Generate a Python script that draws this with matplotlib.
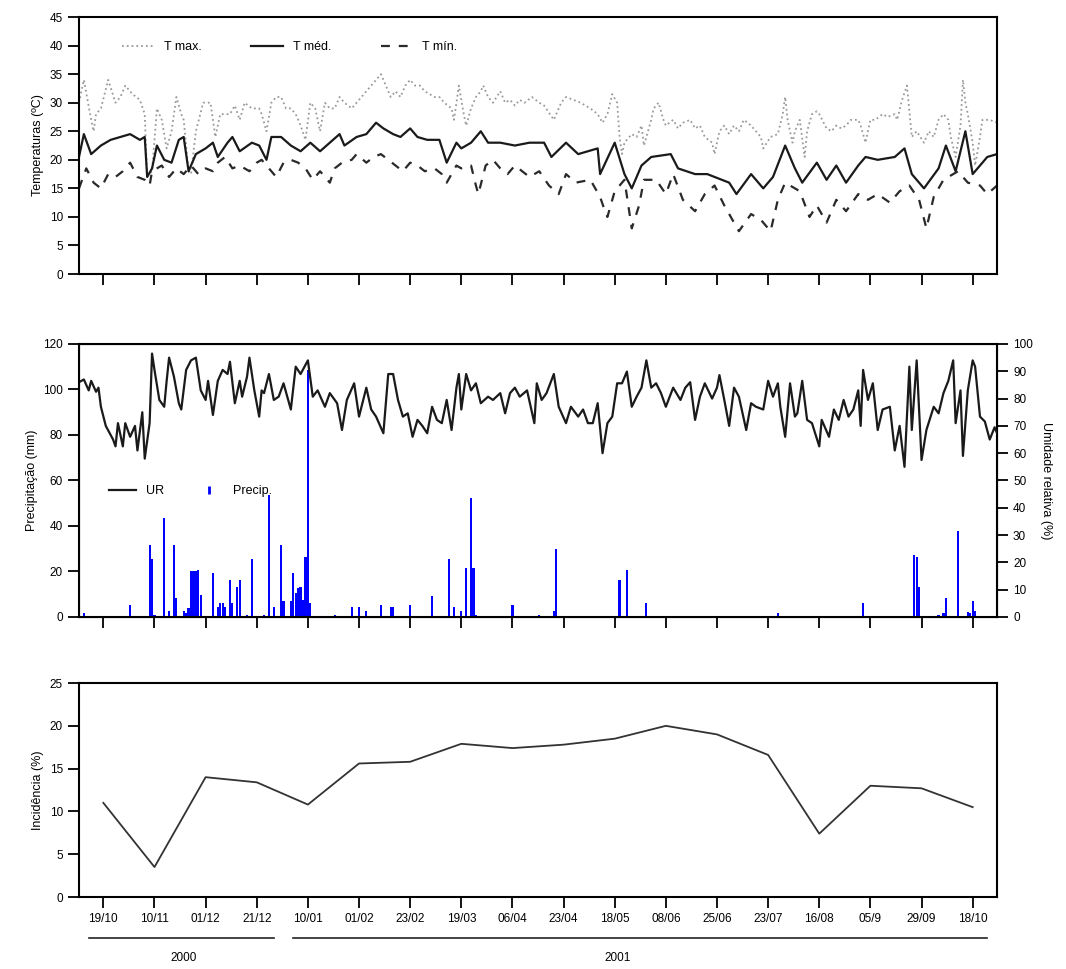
import numpy as np
import matplotlib
matplotlib.use("Agg")
import matplotlib.pyplot as plt
from matplotlib.lines import Line2D

plt.rcParams['font.family'] = ['Liberation Sans Narrow', 'Liberation Sans', 'DejaVu Sans']
plt.rcParams['font.size'] = 8.5

# evaluation dates (equally spaced ticks, every 21 days starting at day 10)
datas = ['19/10', '10/11', '01/12', '21/12', '10/01', '01/02', '23/02', '19/03', '06/04',
         '23/04', '18/05', '08/06', '25/06', '23/07', '16/08', '05/9', '29/09', '18/10']
incidencia = [11.0, 3.5, 14.0, 13.4, 10.8, 15.6, 15.8, 17.9, 17.4,
              17.8, 18.5, 20.0, 19.0, 16.6, 7.4, 13.0, 12.7, 10.5]

# daily temperatures (day of series, value)
tmax_dia = [0, 2, 5, 6, 7, 9, 12, 15, 17, 19, 22, 25, 27, 28, 30, 32, 34, 36, 38, 40, 42, 43, 45, 46,
            48, 51, 54, 56, 58, 62, 64, 66, 68, 71, 74, 75, 77, 79, 81, 83, 85, 87, 89, 91, 93, 95,
            97, 99, 101, 103, 105, 107, 109, 112, 114, 116, 118, 120, 122, 124, 126, 128, 130, 132,
            134, 136, 138, 140, 142, 144, 146, 148, 150, 153, 154, 156, 158, 159, 161, 163, 165, 166,
            168, 170, 173, 175, 177, 179, 181, 183, 186, 189, 191, 195, 198, 200, 203, 206, 210, 213,
            215, 217, 219, 221, 222, 223, 224, 227, 229, 231, 232, 235, 236, 238, 240, 241, 244, 246,
            248, 251, 253, 255, 257, 260, 261, 263, 265, 267, 269, 271, 273, 276, 278, 280, 281, 284,
            287, 289, 290, 291, 293, 294, 296, 298, 299, 301, 303, 304, 307, 309, 311, 313, 315, 317,
            320, 321, 323, 325, 327, 330, 332, 335, 336, 338, 340, 342, 344, 347, 349, 351, 353, 355,
            357, 358, 360, 362, 363, 364, 365, 367, 368, 370, 371, 374, 377]
tmax = [30, 34, 27, 25, 28, 29, 34, 30, 31, 33, 31.5, 30.5, 28, 17, 18, 29, 27, 22, 25, 31, 28, 27, 18, 17.5,
        25, 30, 30, 24, 28, 28, 29.5, 27, 30, 29, 29, 28, 25, 30, 31, 31, 29, 29, 28, 26, 23.5, 30,
        29, 25, 30, 29, 29, 31, 30, 29, 30, 31, 32, 33, 34, 35, 33, 31, 32, 31,
        33, 34, 33, 33, 32, 31.5, 31, 31, 30, 29, 27, 33, 28, 26, 29, 31, 32, 33,
        31, 30, 32, 30, 30.5, 29.5, 30.5, 30, 31, 30, 29.5, 27, 30, 31, 30.5, 30, 29, 28,
        26.5, 28, 31.5, 30, 24, 21, 23, 24.5, 24, 26, 22.5, 27, 29, 30, 27, 26, 27, 25.5,
        26.5, 27, 25.5, 26, 24, 23, 21, 25, 26, 24.5, 26, 25, 27, 26, 25, 24, 22, 24,
        24.5, 28, 31, 27, 23, 25, 27, 20.5, 25, 28, 28.5, 28, 25.5, 25, 26, 25.5, 26, 27,
        27, 26, 23, 27, 27, 28, 27.5, 28, 27, 30.5, 33, 24, 25, 23, 25, 24, 27, 28,
        27, 24, 20.5, 26, 34, 30, 28, 23, 19, 24, 27, 27, 26.5]

tmed_dia = [0, 2, 5, 9, 13, 17, 21, 25, 27, 28, 30, 32, 35, 38, 41, 43, 45, 48, 52, 55, 57, 61, 63, 66,
            71, 74, 77, 79, 83, 87, 91, 95, 99, 103, 107, 109, 114, 118, 122, 125, 129, 132, 136, 139,
            143, 148, 151, 155, 157, 161, 165, 168, 173, 179, 185, 191, 194, 200, 205, 213, 214, 220,
            224, 227, 231, 235, 243, 246, 253, 258, 267, 270, 276, 281, 285, 290, 294, 297, 303, 307,
            311, 315, 320, 323, 328, 335, 339, 342, 347, 353, 356, 360, 364, 367, 373, 377]
tmed = [20.5, 24.5, 21, 22.5, 23.5, 24, 24.5, 23.5, 24, 17, 18.5, 22.5, 20, 19.5, 23.5, 24, 18, 21, 22, 23, 20.5, 23, 24, 21.5,
        23, 22.5, 20, 24, 24, 22.5, 21.5, 23, 21.5, 23, 24.5, 22.5, 24, 24.5, 26.5, 25.5, 24.5, 24, 25.5, 24,
        23.5, 23.5, 19.5, 23, 22, 23, 25, 23, 23, 22.5, 23, 23, 20.5, 23, 21, 22, 17.5, 23,
        17.5, 15, 19, 20.5, 21, 18.5, 17.5, 17.5, 16, 14, 17.5, 15, 17, 22.5, 18.5, 16, 19.5, 16.5,
        19, 16, 19, 20.5, 20, 20.5, 22, 17.5, 15, 18.5, 22.5, 18, 25, 17.5, 20.5, 21]

tmin_dia = [0, 3, 6, 9, 12, 15, 18, 21, 24, 27, 29, 30, 34, 37, 40, 43, 46, 49, 52, 55, 57, 60, 63, 66,
            70, 73, 75, 79, 81, 84, 87, 90, 93, 96, 99, 103, 105, 108, 112, 114, 118, 121, 124, 127,
            130, 133, 136, 139, 142, 146, 149, 151, 155, 157, 161, 163, 164, 167, 170, 173, 176, 179,
            185, 189, 193, 197, 200, 204, 210, 214, 216, 217, 220, 224, 227, 230, 232, 237, 241, 244,
            248, 253, 257, 261, 265, 271, 276, 280, 284, 287, 290, 296, 300, 303, 307, 311, 315, 320,
            324, 328, 333, 337, 341, 345, 348, 351, 355, 361, 365, 370, 373, 377]
tmin = [15, 18.5, 16, 15, 17.5, 17, 18, 19.5, 17, 16.5, 15.5, 18, 19, 17, 18.5, 17.5, 19, 17.5, 18.5, 18, 19.5, 20.5, 18.5, 19,
        18, 19.5, 20, 18, 17, 19.5, 20, 19.5, 18.5, 16.5, 18, 16, 18.5, 19.5, 20, 21, 19.5, 20.5, 21, 20,
        19, 18, 19.5, 19, 18, 18.5, 17.5, 16, 19, 18.5, 19, 15.5, 14, 19, 20, 18.5, 17.5, 19,
        17, 18, 15.5, 14, 17.5, 16, 16.5, 13.5, 11, 10, 14.5, 16.5, 8, 12, 16.5, 16.5, 14, 17.5,
        13, 11, 14, 15.5, 12, 7.5, 10.5, 9.5, 7.5, 13, 16, 14.5, 10, 12, 9, 13, 11, 14,
        13, 14, 12.5, 14.5, 15.5, 13, 8, 13.5, 16.5, 18, 16, 15.5, 14, 15.5]

# relative humidity (%)
ur_dia = [0, 2, 4, 5, 7, 8, 9, 11, 14, 15, 16, 18, 19, 21, 23, 24, 26, 27, 29, 30, 31, 33, 35, 36, 37,
          39, 41, 42, 44, 46, 48, 50, 52, 53, 55, 57, 59, 61, 62, 64, 66, 67, 69, 70, 72, 74, 75, 76,
          78, 80, 82, 84, 87, 89, 91, 94, 96, 98, 101, 103, 106, 108, 110, 113, 115, 118, 120, 122,
          125, 127, 129, 131, 133, 135, 137, 139, 141, 143, 145, 147, 149, 151, 153, 155, 156, 157,
          159, 161, 163, 165, 168, 170, 173, 175, 177, 179, 181, 184, 187, 188, 190, 192, 195, 197,
          200, 202, 205, 207, 209, 211, 213, 215, 217, 219, 221, 223, 225, 227, 229, 231, 233, 235,
          237, 239, 241, 244, 247, 249, 251, 253, 255, 257, 260, 262, 263, 265, 267, 269, 271, 274,
          276, 278, 281, 283, 285, 287, 288, 290, 292, 294, 295, 297, 299, 301, 304, 305, 308, 310,
          312, 314, 316, 318, 320, 321, 322, 324, 326, 328, 330, 333, 335, 337, 339, 341, 342, 344,
          346, 348, 351, 353, 355, 357, 359, 360, 362, 363, 365, 367, 368, 370, 372, 374, 376, 377]
ur = [86, 87, 83, 86.5, 82.5, 84, 77, 70, 65, 62.5, 71, 62.5, 71, 66, 70, 61, 75, 58, 71, 96.5, 90.5, 79.5, 77, 86.5, 95,
      88, 78.3, 76, 90.5, 94, 95, 83, 79.5, 86.5, 74, 86.5, 90.5, 89, 93.5, 78.3, 86.5, 80.7, 88, 95, 83, 73.4, 83, 82,
      89, 79.5, 80.7, 85.6, 76, 91.7, 89, 94, 80.7, 83, 77, 82, 78.3, 68.5, 79.5, 85.6, 73.4, 84, 76, 73.4,
      67.3, 89, 89, 79.5, 73.4, 74.6, 66, 72.2, 70, 67.3, 77, 72.2, 71, 79.5, 68.5, 84, 89, 76,
      89, 83, 85.6, 78.3, 80.7, 79.5, 82, 74.6, 82, 84, 80.7, 83, 71, 85.6, 79.5, 82, 89, 77,
      71, 77, 73.4, 76, 71, 71, 78.3, 60, 71, 73.4, 85.6, 85.6, 89.9, 77, 80.7, 84, 94, 84,
      85.6, 82, 77, 84, 79.5, 84, 86, 72.2, 80.7, 85.6, 80, 84, 88.6, 79.5, 70, 84, 80.7, 68.5,
      78.3, 77, 76, 86.5, 80.7, 85.6, 77, 66, 85.6, 73.4, 74.6, 86.5, 72.2, 71, 62.5, 72.2, 66, 76,
      72.2, 79.5, 73.4, 76, 83, 70, 90.5, 79.5, 85.6, 68.5, 76, 77, 61, 70, 55, 91.7, 68.5, 94,
      57.5, 68.5, 77, 74.6, 82, 86.5, 94, 71, 83, 59, 83, 94, 91.7, 73.4, 71.6, 65, 69.5, 67.3]

# daily rainfall (mm), only rainy days
chuva_dia = [2, 21, 29, 30, 31, 35, 37, 39, 40, 43, 44, 45, 46, 47, 48, 49, 50, 55, 57, 58, 59, 60, 62, 63,
             65, 66, 69, 71, 76, 78, 80, 83, 84, 87, 88, 89, 90, 91, 92, 93, 94, 95, 105, 112, 115, 118,
             124, 128, 129, 136, 145, 152, 154, 157, 159, 161, 162, 163, 178, 189, 195, 196, 222, 225,
             233, 287, 322, 343, 344, 345, 353, 355, 356, 361, 365, 366, 367, 368]
chuva = [1.6, 5.3, 31.7, 25.4, 1, 43.4, 2.8, 31.7, 8.2, 2.8, 1.6, 3.8, 20, 20, 20.4, 20.7, 9.7, 19.2, 4.5, 6.3, 6.3, 4.5, 16.3, 6,
         13.3, 16.3, 1, 25.4, 1, 53.5, 4.5, 31.7, 7.2, 7.2, 19.2, 10.4, 12.6, 13.3, 7.5, 26.3, 108.6, 6, 1, 4.5, 4.5, 2.8,
         5.3, 4.5, 4.5, 5.3, 9, 25.4, 4.5, 2.8, 21.7, 52.3, 21.7, 1, 5.3, 1, 2.8, 29.7, 16.3, 20.7,
         6, 1.6, 6.3, 27.1, 26.3, 13.3, 1, 1.6, 8.2, 38, 2.3, 1.6, 7.2, 2.8]

tick_pos = 10 + 21 * np.arange(len(datas))
xlim = (0, 377)

fig = plt.figure(figsize=(10.66, 9.69), dpi=100)
ax1 = fig.add_axes([0.0741, 0.7172, 0.8612, 0.2652])
ax2 = fig.add_axes([0.0741, 0.3633, 0.8612, 0.2817])
ax3 = fig.add_axes([0.0741, 0.0743, 0.8612, 0.2208])


def estilo(ax):
    for s in ax.spines.values():
        s.set_linewidth(1.5)
    ax.tick_params(direction='out', length=8, width=1.3, labelsize=8.5)
    ax.set_xlim(*xlim)
    ax.set_xticks(tick_pos)


# top: temperatures
estilo(ax1)
ax1.plot(tmax_dia, tmax, color='#9a9a9a', ls=':', lw=1.3, label='T max.')
ax1.plot(tmed_dia, tmed, color='#1a1a1a', ls='-', lw=1.6, label='T méd.')
ax1.plot(tmin_dia, tmin, color='#2a2a2a', ls='--', lw=1.6, dashes=(4, 4), label='T mín.')
ax1.set_ylim(0, 45)
ax1.set_yticks(np.arange(0, 46, 5))
ax1.set_xticklabels([])
ax1.set_ylabel('Temperaturas (ºC)', fontsize=9)
ax1.legend(ncol=3, frameon=False, loc='upper left', bbox_to_anchor=(0.035, 0.95),
           handlelength=2.5, columnspacing=4, fontsize=9)

# middle: rainfall + humidity
estilo(ax2)
ax2.bar(chuva_dia, chuva, width=0.9, color='#0000ff')
ax2.set_ylim(0, 120)
ax2.set_yticks(np.arange(0, 121, 20))
ax2.set_xticklabels([])
ax2.set_ylabel('Precipitação (mm)', fontsize=9)
ax2b = ax2.twinx()
ax2b.plot(ur_dia, ur, color='#1a1a1a', lw=1.6)
ax2b.set_ylim(0, 100)
ax2b.set_yticks(np.arange(0, 101, 10))
ax2b.tick_params(direction='out', length=8, width=1.3, labelsize=8.5)
ax2b.set_ylabel('Umidade relativa (%)', rotation=270, labelpad=14, fontsize=9)
handles = [Line2D([], [], color='#1a1a1a', lw=1.6),
           Line2D([], [], color='#0000ff', marker='|', ls='none', markersize=6, mew=2)]
ax2b.legend(handles, ['UR', 'Precip.'], ncol=2, frameon=False, loc='center left',
            bbox_to_anchor=(0.02, 0.46), handlelength=2.2, columnspacing=2.5, fontsize=9)

# bottom: incidence
estilo(ax3)
ax3.plot(tick_pos, incidencia, color='#333333', lw=1.3)
ax3.set_ylim(0, 25)
ax3.set_yticks(np.arange(0, 26, 5))
ax3.set_xticklabels(datas)
ax3.set_ylabel('Incidência (%)', fontsize=9)

# year brackets below the date axis
tr = ax3.get_xaxis_transform()
ax3.plot([4, 80], [-0.19, -0.19], color='#222222', lw=1.2, transform=tr, clip_on=False)
ax3.plot([88, 373], [-0.19, -0.19], color='#222222', lw=1.2, transform=tr, clip_on=False)
ax3.text(43, -0.285, '2000', transform=tr, ha='center', va='center', fontsize=8.5)
ax3.text(221, -0.285, '2001', transform=tr, ha='center', va='center', fontsize=8.5)

fig.savefig('out.png', dpi=100)
